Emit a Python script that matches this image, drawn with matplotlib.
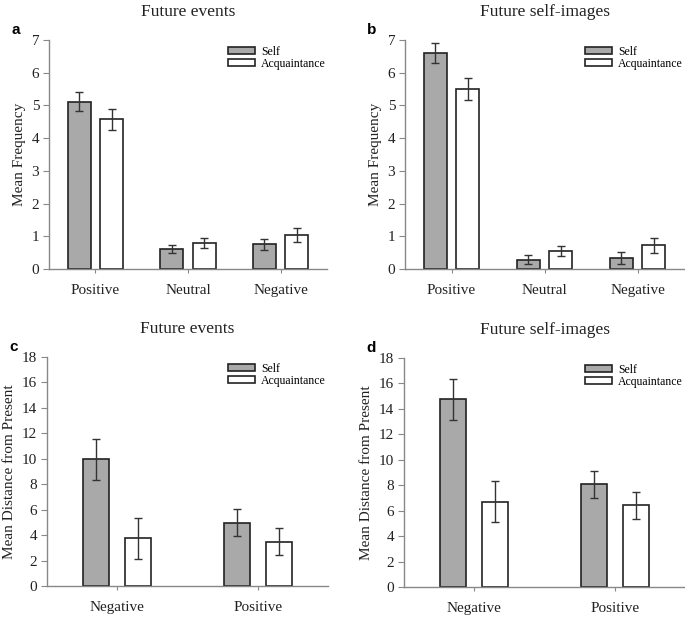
import numpy as np
import matplotlib
matplotlib.use("Agg")
import matplotlib.pyplot as plt

plt.rcParams["font.family"] = ["Liberation Serif", "DejaVu Serif"]

# panels a/b: mean frequency by valence
freq_cats = ["Positive", "Neutral", "Negative"]
events_self = [5.12, 0.61, 0.76]
events_self_err = [0.29, 0.12, 0.17]
events_acq = [4.57, 0.79, 1.04]
events_acq_err = [0.33, 0.15, 0.21]

images_self = [6.60, 0.28, 0.33]
images_self_err = [0.30, 0.14, 0.18]
images_acq = [5.50, 0.55, 0.72]
images_acq_err = [0.34, 0.16, 0.22]

# panels c/d: mean distance from present
dist_cats = ["Negative", "Positive"]
dist_events_self = [9.97, 4.97]
dist_events_self_err = [1.62, 1.06]
dist_events_acq = [3.74, 3.47]
dist_events_acq_err = [1.63, 1.06]

dist_images_self = [14.76, 8.06]
dist_images_self_err = [1.62, 1.06]
dist_images_acq = [6.69, 6.43]
dist_images_acq_err = [1.62, 1.06]

W, H = 685, 643
fig = plt.figure(figsize=(W / 100, H / 100), dpi=100)


def px_axes(left, right, top, bottom):
    return fig.add_axes([left / W, 1 - bottom / H, (right - left) / W, (bottom - top) / H])


def draw_panel(ax, cats, s, se, a, ae, ymax, ystep, width, offset, ylabel, title, letter):
    x = np.arange(len(cats))
    err_kw = dict(ecolor="#333333", elinewidth=1.0, capsize=3.0, capthick=1.0)
    ax.bar(x - offset, s, width, yerr=se, color="#a9a9a9", edgecolor="#222222",
           linewidth=1.2, label="Self", error_kw=err_kw, zorder=2)
    ax.bar(x + offset, a, width, yerr=ae, color="white", edgecolor="#222222",
           linewidth=1.2, label="Acquaintance", error_kw=err_kw, zorder=2)
    ax.set_xlim(-0.5, len(cats) - 0.5)
    ax.set_ylim(0, ymax)
    ax.set_yticks(np.arange(0, ymax + 0.01, ystep))
    ax.set_xticks(x)
    ax.set_xticklabels(cats)
    for sp in ["top", "right"]:
        ax.spines[sp].set_visible(False)
    for sp in ["left", "bottom"]:
        ax.spines[sp].set_color("#888888")
        ax.spines[sp].set_linewidth(1.0)
    ax.tick_params(axis="y", direction="out", length=4, color="#888888",
                   labelsize=11, labelcolor="#222222", pad=3)
    ax.tick_params(axis="x", direction="out", length=3, color="#888888",
                   labelsize=11, labelcolor="#222222", pad=8)
    ax.set_ylabel(ylabel, fontsize=11, color="#222222", labelpad=4)
    ax.set_title(title, fontsize=12.5, color="#222222", pad=17.5)
    ax.legend(loc="upper left", bbox_to_anchor=(0.645, 0.975), frameon=False,
              fontsize=8.5, handlelength=2.3, handleheight=0.55, handletextpad=0.5,
              labelspacing=0.02, borderpad=0, borderaxespad=0)
    fig.text(ax.get_position().x0 - 0.055, ax.get_position().y1 + 0.015, letter,
             fontsize=11, fontweight="bold", family="Liberation Sans",
             ha="left", va="center")


ax_a = px_axes(49, 327, 40, 269)
draw_panel(ax_a, freq_cats, events_self, events_self_err, events_acq, events_acq_err,
           7, 1, 0.25, 0.175, "Mean Frequency", "Future events", "a")

ax_b = px_axes(405, 684, 40, 269)
draw_panel(ax_b, freq_cats, images_self, images_self_err, images_acq, images_acq_err,
           7, 1, 0.25, 0.175, "Mean Frequency", "Future self-images", "b")

ax_c = px_axes(47, 328, 357, 586)
draw_panel(ax_c, dist_cats, dist_events_self, dist_events_self_err, dist_events_acq,
           dist_events_acq_err, 18, 2, 0.185, 0.15, "Mean Distance from Present",
           "Future events", "c")

ax_d = px_axes(404, 685, 358, 587)
draw_panel(ax_d, dist_cats, dist_images_self, dist_images_self_err, dist_images_acq,
           dist_images_acq_err, 18, 2, 0.185, 0.15, "Mean Distance from Present",
           "Future self-images", "d")

fig.savefig("out.png", dpi=100)
